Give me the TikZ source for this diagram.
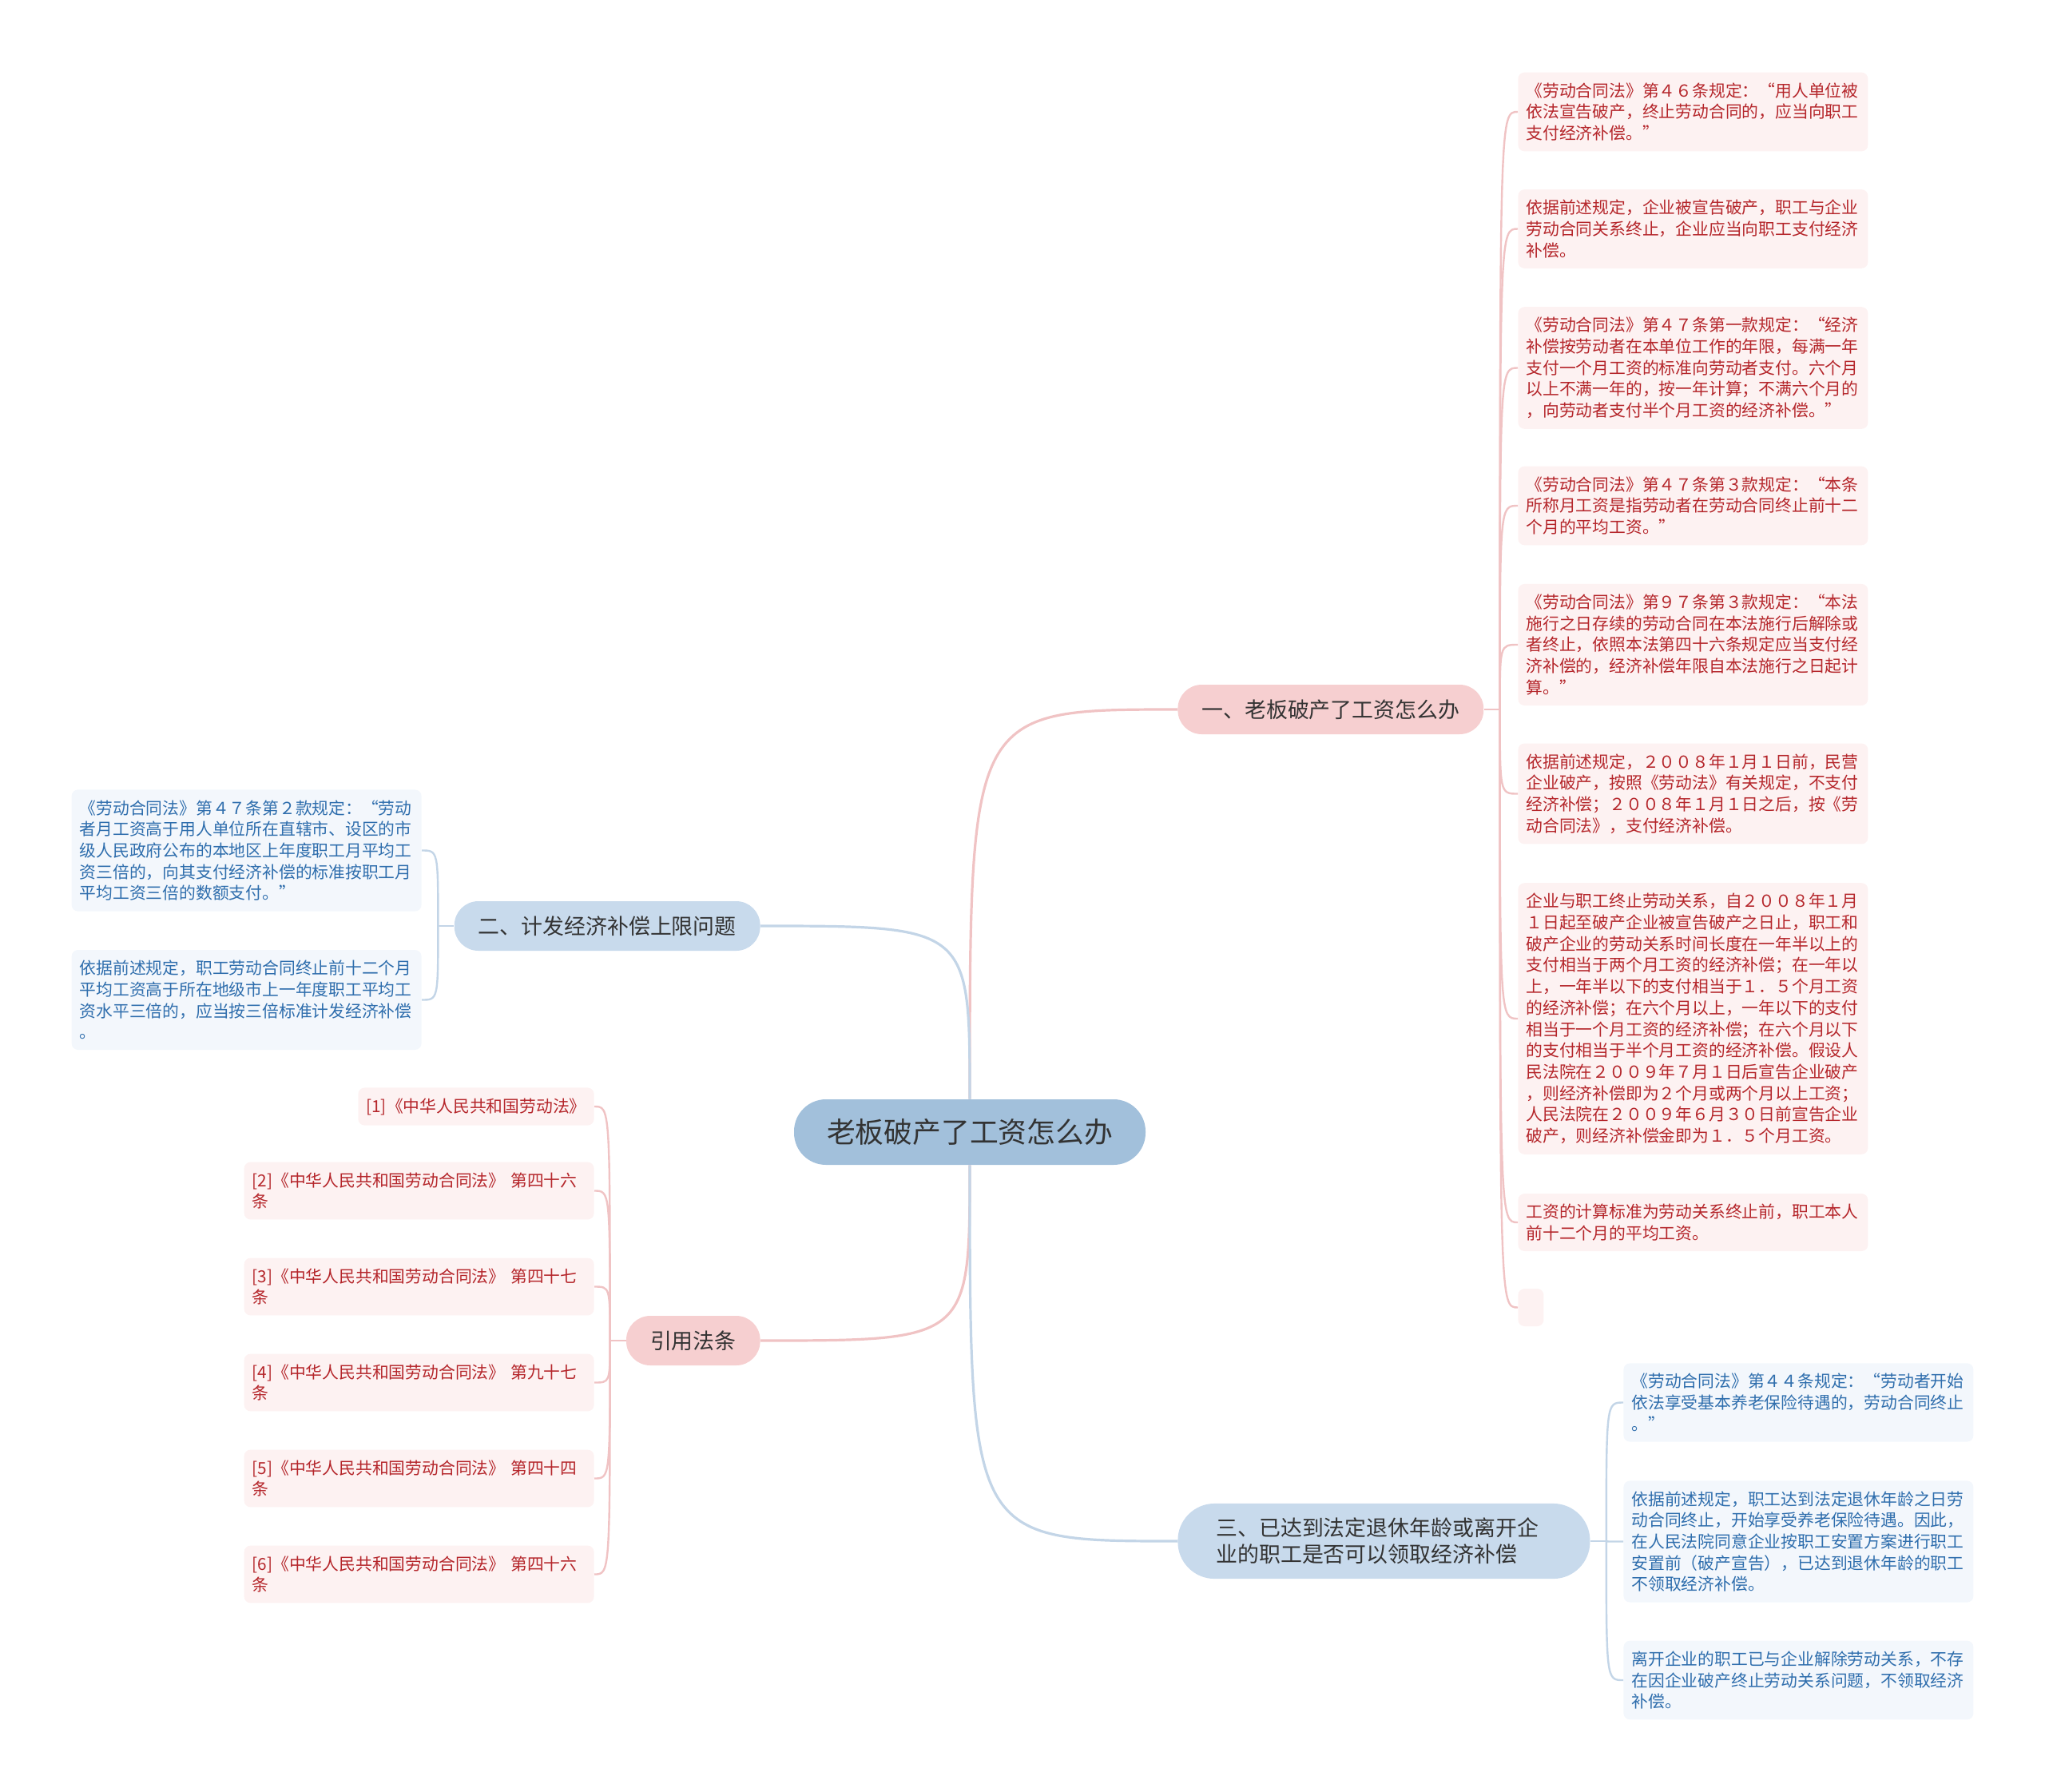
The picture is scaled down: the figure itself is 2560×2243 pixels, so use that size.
\documentclass[tikz,border=0pt]{standalone}
\usepackage{fontspec}
\setmainfont{Noto Sans CJK SC}
\definecolor{rootblue}{HTML}{A2C0DB}
\definecolor{topicblue}{HTML}{C8DAEC}
\definecolor{topicpink}{HTML}{F6CFD0}
\definecolor{leafpink}{HTML}{FDF2F2}
\definecolor{leafblue}{HTML}{F3F7FC}
\definecolor{inkred}{HTML}{B5262B}
\definecolor{inkblue}{HTML}{2F6EAD}
\definecolor{inkgray}{HTML}{333333}
\definecolor{linkpink}{HTML}{F0C3C4}
\definecolor{linkblue}{HTML}{C3D5E7}

\begin{document}
\begin{tikzpicture}[x=0.5pt,y=-0.5pt,
    leafbase/.style={rounded corners=4pt,inner xsep=5pt,inner ysep=6.5pt,
      font=\fontsize{10.4}{13.35}\selectfont},
    redleaf/.style={leafbase,fill=leafpink,text=inkred,text width=209pt,align=left},
    blueleaf/.style={leafbase,fill=leafblue,text=inkblue,text width=209pt,align=left},
    redtag/.style={leafbase,fill=leafpink,text=inkred},
    topic/.style={rounded corners=15pt,inner xsep=15pt,inner ysep=8.8pt,
      minimum height=31pt,text=inkgray,font=\fontsize{13.45}{16.3}\selectfont},
    mainlink/.style={line width=1.6pt},
    leaflink/.style={line width=1.2pt}]
    \useasboundingbox (0,0) rectangle (2560,2243);

    % root and main topics
    \node[fill=rootblue,rounded corners=20pt,inner xsep=20.5pt,inner ysep=11.5pt,
      minimum height=41pt,text=inkgray,font=\fontsize{17.9}{20}\selectfont]
      (root) at (1214,1417) {老板破产了工资怎么办};
    \node[topic,fill=topicpink,anchor=west] (bA) at (1474,888) {一、老板破产了工资怎么办};
    \node[topic,fill=topicblue,anchor=east] (bB) at (952,1159) {二、计发经济补偿上限问题};
    \node[topic,fill=topicpink,anchor=east] (bC) at (952,1678) {引用法条};
    \node[topic,fill=topicblue,anchor=west,rounded corners=23pt,inner xsep=24pt,
      inner ysep=9.1pt,text width=210pt,align=left] (bD) at (1474,1929)
      {三、已达到法定退休年龄或离开企\\业的职工是否可以领取经济补偿};

    \draw[linkpink,mainlink] (root.north) .. controls (root.north |- bA.west) .. (bA.west);
    \draw[linkblue,mainlink] (root.north) .. controls (root.north |- bB.east) .. (bB.east);
    \draw[linkpink,mainlink] (root.south) .. controls (root.south |- bC.east) .. (bC.east);
    \draw[linkblue,mainlink] (root.south) .. controls (root.south |- bD.west) .. (bD.west);

    % topic one
    \node[redleaf,anchor=west] (a1) at (1900,140) {《劳动合同法》第４６条规定：“用人单位被\\依法宣告破产，终止劳动合同的，应当向职工\\支付经济补偿。”};
    \node[redleaf,anchor=west] (a2) at (1900,286.5) {依据前述规定，企业被宣告破产，职工与企业\\劳动合同关系终止，企业应当向职工支付经济\\补偿。};
    \node[redleaf,anchor=west] (a3) at (1900,460.5) {《劳动合同法》第４７条第一款规定：“经济\\补偿按劳动者在本单位工作的年限，每满一年\\支付一个月工资的标准向劳动者支付。六个月\\以上不满一年的，按一年计算；不满六个月的\\，向劳动者支付半个月工资的经济补偿。”};
    \node[redleaf,anchor=west] (a4) at (1900,633) {《劳动合同法》第４７条第３款规定：“本条\\所称月工资是指劳动者在劳动合同终止前十二\\个月的平均工资。”};
    \node[redleaf,anchor=west] (a5) at (1900,807) {《劳动合同法》第９７条第３款规定：“本法\\施行之日存续的劳动合同在本法施行后解除或\\者终止，依照本法第四十六条规定应当支付经\\济补偿的，经济补偿年限自本法施行之日起计\\算。”};
    \node[redleaf,anchor=west] (a6) at (1900,993.5) {依据前述规定，２００８年１月１日前，民营\\企业破产，按照《劳动法》有关规定，不支付\\经济补偿；２００８年１月１日之后，按《劳\\动合同法》，支付经济补偿。};
    \node[redleaf,anchor=west] (a7) at (1900,1275) {企业与职工终止劳动关系，自２００８年１月\\１日起至破产企业被宣告破产之日止，职工和\\破产企业的劳动关系时间长度在一年半以上的\\支付相当于两个月工资的经济补偿；在一年以\\上，一年半以下的支付相当于１．５个月工资\\的经济补偿；在六个月以上，一年以下的支付\\相当于一个月工资的经济补偿；在六个月以下\\的支付相当于半个月工资的经济补偿。假设人\\民法院在２００９年７月１日后宣告企业破产\\，则经济补偿即为２个月或两个月以上工资；\\人民法院在２００９年６月３０日前宣告企业\\破产，则经济补偿金即为１．５个月工资。};
    \node[redleaf,anchor=west] (a8) at (1900,1530) {工资的计算标准为劳动关系终止前，职工本人\\前十二个月的平均工资。};
    \node[leafbase,fill=leafpink,inner sep=0pt,minimum width=16pt,minimum height=23.5pt,
      anchor=west] (a9) at (1900,1636.5) {};
    \coordinate (jA) at ([xshift=10pt]bA.east);
    \draw[linkpink,leaflink] (bA.east) -- (jA);
    \foreach \n in {1,...,9}
      \draw[linkpink,leaflink] (jA) .. controls (jA |- a\n.west) .. (a\n.west);

    % topic two
    \node[blueleaf,anchor=east] (b1) at (528,1064.5) {《劳动合同法》第４７条第２款规定：“劳动\\者月工资高于用人单位所在直辖市、设区的市\\级人民政府公布的本地区上年度职工月平均工\\资三倍的，向其支付经济补偿的标准按职工月\\平均工资三倍的数额支付。”};
    \node[blueleaf,anchor=east] (b2) at (528,1251.5) {依据前述规定，职工劳动合同终止前十二个月\\平均工资高于所在地级市上一年度职工平均工\\资水平三倍的，应当按三倍标准计发经济补偿\\。};
    \coordinate (jB) at ([xshift=-10pt]bB.west);
    \draw[linkblue,leaflink] (bB.west) -- (jB);
    \foreach \n in {1,2}
      \draw[linkblue,leaflink] (jB) .. controls (jB |- b\n.east) .. (b\n.east);

    % cited articles
    \node[redtag,anchor=east] (r1) at (744,1385) {[1]《中华人民共和国劳动法》};
    \foreach \i/\art in {2/第四十六,3/第四十七,4/第九十七,5/第四十四,6/第四十六}
      \node[redleaf,anchor=east] (r\i) at (744,{1250.5+\i*120}) {[\i]《中华人民共和国劳动合同法》 \art\\条};
    \coordinate (jC) at ([xshift=-10pt]bC.west);
    \draw[linkpink,leaflink] (bC.west) -- (jC);
    \foreach \n in {1,...,6}
      \draw[linkpink,leaflink] (jC) .. controls (jC |- r\n.east) .. (r\n.east);

    % topic three
    \node[blueleaf,anchor=west] (d1) at (2032,1755.5) {《劳动合同法》第４４条规定：“劳动者开始\\依法享受基本养老保险待遇的，劳动合同终止\\。”};
    \node[blueleaf,anchor=west] (d2) at (2032,1929.5) {依据前述规定，职工达到法定退休年龄之日劳\\动合同终止，开始享受养老保险待遇。因此，\\在人民法院同意企业按职工安置方案进行职工\\安置前（破产宣告），已达到退休年龄的职工\\不领取经济补偿。};
    \node[blueleaf,anchor=west] (d3) at (2032,2103) {离开企业的职工已与企业解除劳动关系，不存\\在因企业破产终止劳动关系问题，不领取经济\\补偿。};
    \coordinate (jD) at ([xshift=10pt]bD.east);
    \draw[linkblue,leaflink] (bD.east) -- (jD);
    \foreach \n in {1,2,3}
      \draw[linkblue,leaflink] (jD) .. controls (jD |- d\n.west) .. (d\n.west);
  \end{tikzpicture}
\end{document}
